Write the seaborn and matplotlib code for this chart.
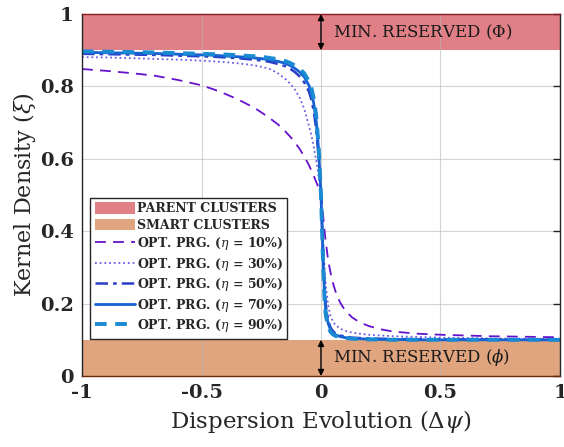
import matplotlib
matplotlib.use("Agg")
import matplotlib.pyplot as plt
import seaborn as sns
import pandas as pd

# Sample positions of the dispersion evolution axis (denser around the transition)
dpsi = [-1.0, -0.9, -0.8, -0.7, -0.6, -0.5, -0.45, -0.4, -0.35, -0.3, -0.27, -0.24,
        -0.21, -0.18, -0.15, -0.13, -0.11, -0.09, -0.07, -0.05, -0.04, -0.03, -0.02,
        -0.01, 0.0, 0.005, 0.01, 0.015, 0.02, 0.03, 0.04, 0.05, 0.06, 0.08, 0.1, 0.13,
        0.16, 0.2, 0.25, 0.3, 0.4, 0.5, 0.6, 0.7, 0.8, 0.9, 1.0]

# Kernel density for each optimisation-programme setting
kd_eta10 = [0.848, 0.843, 0.837, 0.830, 0.818, 0.803, 0.792, 0.779, 0.765, 0.748, 0.737, 0.724,
            0.710, 0.695, 0.676, 0.662, 0.646, 0.628, 0.606, 0.582, 0.567, 0.552, 0.536,
            0.520, 0.505, 0.470, 0.435, 0.400, 0.370, 0.320, 0.285, 0.257, 0.235, 0.203, 0.182, 0.162,
            0.149, 0.138, 0.129, 0.123, 0.117, 0.114, 0.112, 0.110, 0.109, 0.108, 0.107]
kd_eta30 = [0.881, 0.880, 0.878, 0.876, 0.874, 0.871, 0.869, 0.867, 0.864, 0.860, 0.857, 0.853,
            0.847, 0.836, 0.821, 0.808, 0.792, 0.770, 0.738, 0.690, 0.665, 0.632, 0.595,
            0.552, 0.500, 0.430, 0.360, 0.295, 0.250, 0.195, 0.165, 0.150, 0.141, 0.131, 0.125, 0.120,
            0.117, 0.114, 0.112, 0.110, 0.108, 0.106, 0.105, 0.104, 0.103, 0.103, 0.102]
kd_eta50 = [0.890, 0.889, 0.888, 0.887, 0.885, 0.883, 0.882, 0.880, 0.878, 0.875, 0.873, 0.871,
            0.867, 0.862, 0.856, 0.849, 0.840, 0.828, 0.811, 0.785, 0.763, 0.730, 0.682,
            0.605, 0.500, 0.410, 0.320, 0.245, 0.195, 0.153, 0.134, 0.124, 0.118, 0.112, 0.109, 0.106,
            0.105, 0.104, 0.103, 0.102, 0.102, 0.101, 0.101, 0.101, 0.100, 0.100, 0.100]
kd_eta70 = [0.894, 0.893, 0.892, 0.891, 0.889, 0.887, 0.886, 0.884, 0.882, 0.880, 0.878, 0.876,
            0.873, 0.869, 0.864, 0.858, 0.850, 0.840, 0.826, 0.802, 0.782, 0.752, 0.705,
            0.625, 0.500, 0.400, 0.300, 0.225, 0.180, 0.145, 0.128, 0.119, 0.114, 0.109, 0.106, 0.104,
            0.103, 0.102, 0.101, 0.101, 0.100, 0.100, 0.100, 0.100, 0.100, 0.100, 0.100]
kd_eta90 = [0.897, 0.896, 0.895, 0.894, 0.892, 0.890, 0.889, 0.888, 0.886, 0.884, 0.883, 0.881,
            0.878, 0.875, 0.870, 0.865, 0.858, 0.849, 0.836, 0.813, 0.795, 0.765, 0.718,
            0.635, 0.500, 0.390, 0.285, 0.210, 0.168, 0.136, 0.122, 0.115, 0.111, 0.107, 0.105, 0.103,
            0.102, 0.101, 0.101, 0.100, 0.100, 0.100, 0.100, 0.100, 0.100, 0.100, 0.100]

series_labels = [r"OPT. PRG. ($\eta$ = 10%)", r"OPT. PRG. ($\eta$ = 30%)",
                 r"OPT. PRG. ($\eta$ = 50%)", r"OPT. PRG. ($\eta$ = 70%)",
                 r"OPT. PRG. ($\eta$ = 90%)"]
series_values = [kd_eta10, kd_eta30, kd_eta50, kd_eta70, kd_eta90]

# Reserved bands
parent_band = (0.9, 1.0)
smart_band = (0.0, 0.1)

sns.set_theme(style="white")
plt.rcParams["font.family"] = ["DejaVu Serif"]
plt.rcParams["mathtext.fontset"] = "dejavuserif"

fig = plt.figure(figsize=(5.64, 4.47), dpi=100)
ax = fig.add_axes([0.1454, 0.1588, 0.8475, 0.8099])

ax.fill_between([-1, 1], parent_band[0], parent_band[1], color="#e07f86",
                linewidth=0, zorder=1, label="PARENT CLUSTERS")
ax.fill_between([-1, 1], smart_band[0], smart_band[1], color="#e0a47f",
                linewidth=0, zorder=1, label="SMART CLUSTERS")

styles = [
    dict(color="#6612cc", linestyle=(0, (6, 4)), linewidth=1.3),
    dict(color="#6b5ce6", linestyle=(0, (1, 1.6)), linewidth=1.3),
    dict(color="#2b3dc8", linestyle=(0, (5, 2, 1.5, 2)), linewidth=1.8),
    dict(color="#1662d2", linestyle="-", linewidth=2.0),
    dict(color="#1a8ad2", linestyle=(0, (3, 2.2)), linewidth=2.8),
]

for label, vals, st in zip(series_labels, series_values, styles):
    df = pd.DataFrame({"dpsi": dpsi, "kd": vals})
    sns.lineplot(data=df, x="dpsi", y="kd", ax=ax, label=label, zorder=3, **st)

# Double-headed markers for the reserved margins
arrow_kw = dict(arrowstyle="<|-|>", color="black", lw=1.0, mutation_scale=9,
                shrinkA=0, shrinkB=0)
ax.annotate("", xy=(0, 1.0), xytext=(0, 0.9), arrowprops=arrow_kw, zorder=4)
ax.annotate("", xy=(0, 0.1), xytext=(0, 0.0), arrowprops=arrow_kw, zorder=4)
ax.text(0.05, 0.95, r"MIN. RESERVED ($\Phi$)", fontsize=12, va="center", ha="left",
        color="#1a1a1a", zorder=4)
ax.text(0.05, 0.05, r"MIN. RESERVED ($\phi$)", fontsize=12, va="center", ha="left",
        color="#1a1a1a", zorder=4)

ax.set_xlim(-1, 1)
ax.set_ylim(0, 1)
ax.set_xticks([-1, -0.5, 0, 0.5, 1])
ax.set_xticklabels(["-1", "-0.5", "0", "0.5", "1"])
ax.set_yticks([0, 0.2, 0.4, 0.6, 0.8, 1])
ax.set_yticklabels(["0", "0.2", "0.4", "0.6", "0.8", "1"])
ax.set_axisbelow(False)
ax.grid(True, color="#b8b8b8", linewidth=0.8, alpha=0.6, zorder=2)
ax.tick_params(axis="both", direction="in", length=5, width=1.0, color="#262626",
               labelsize=14, top=False, right=True, pad=6)
for t in ax.get_xticklabels() + ax.get_yticklabels():
    t.set_fontweight("bold")
    t.set_color("#262626")

ax.set_xlabel(r"Dispersion Evolution ($\Delta\psi$)", fontsize=16.5, color="#262626", labelpad=4)
ax.set_ylabel(r"Kernel Density ($\xi$)", fontsize=16, color="#262626", labelpad=1)

ax.spines["left"].set_color("#262626")
ax.spines["right"].set_color("#262626")
ax.spines["top"].set_color("#8a1a22")
ax.spines["bottom"].set_color("#6b2a0a")
for s in ax.spines.values():
    s.set_linewidth(1.0)
    s.set_zorder(5)

handles, labels = ax.get_legend_handles_labels()
leg = ax.legend(handles, labels, loc="upper left", bbox_to_anchor=(0.017, 0.492),
                borderaxespad=0, frameon=True, fancybox=False,
                prop={"weight": "bold", "size": 9}, handlelength=3.2, handleheight=1.0,
                labelspacing=0.28, handletextpad=0.2, borderpad=0.35)
leg.get_frame().set_edgecolor("#262626")
leg.get_frame().set_linewidth(1.0)
leg.get_frame().set_alpha(1)
leg.set_zorder(6)

fig.savefig("out.png", dpi=100)
